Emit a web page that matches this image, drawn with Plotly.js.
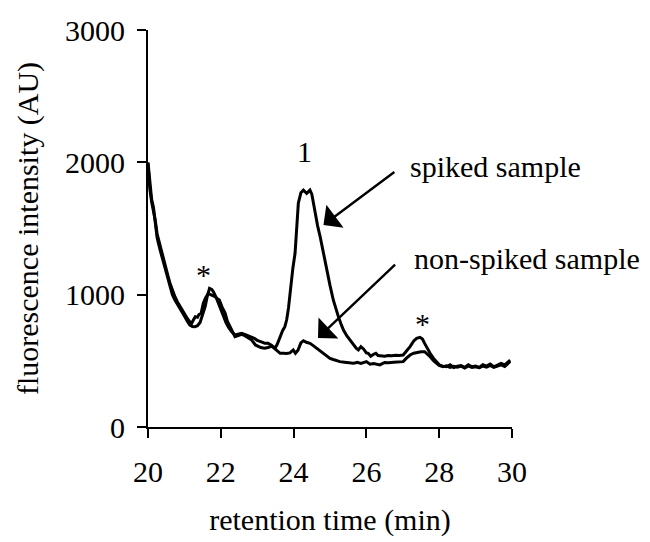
<!DOCTYPE html>
<html>
<head>
<meta charset="utf-8">
<script src="https://cdn.plot.ly/plotly-3.0.1.min.js"></script>
<style>html,body{margin:0;padding:0;background:#fff;}#chart{width:650px;height:542px;}</style>
</head>
<body>
<div id="chart"></div>
<script>
// retention time (min) and fluorescence intensity (AU)
const spikedTime = [20.00,20.05,20.10,20.15,20.20,20.25,20.33,20.40,20.47,20.55,20.60,20.67,20.74,20.81,20.88,20.95,21.02,21.08,21.15,21.22,21.29,21.36,21.43,21.50,21.57,21.63,21.69,21.75,21.80,21.87,21.93,22.00,22.07,22.14,22.21,22.30,22.39,22.48,22.57,22.66,22.75,22.85,22.92,23.00,23.08,23.15,23.21,23.30,23.38,23.45,23.49,23.55,23.62,23.70,23.76,23.81,23.86,23.92,23.98,24.04,24.09,24.13,24.20,24.27,24.36,24.45,24.50,24.54,24.60,24.66,24.73,24.82,24.91,25.00,25.09,25.16,25.23,25.30,25.37,25.46,25.55,25.65,25.72,25.78,25.85,25.92,26.00,26.05,26.12,26.20,26.26,26.32,26.40,26.50,26.60,26.70,26.80,26.90,27.01,27.10,27.20,27.30,27.38,27.47,27.54,27.60,27.68,27.75,27.84,27.93,28.00,28.10,28.20,28.30,28.40,28.50,28.60,28.70,28.80,28.90,29.00,29.10,29.20,29.30,29.40,29.50,29.60,29.70,29.80,29.90,29.95];
const spikedSignal = [2000,1840,1720,1660,1530,1430,1340,1270,1210,1120,1060,1000,960,930,900,860,830,800,770,760,758,765,790,850,910,990,1048,1040,1020,980,935,880,830,790,755,720,695,700,708,700,690,683,670,655,650,640,632,632,620,600,595,625,680,730,758,810,900,1061,1200,1313,1500,1691,1770,1790,1765,1790,1760,1691,1600,1520,1438,1310,1187,1070,960,890,834,780,733,690,657,620,595,582,607,590,560,557,535,550,557,540,537,535,540,538,542,540,544,570,607,650,670,678,665,632,590,557,520,494,470,460,455,470,450,460,465,450,470,455,460,450,470,460,475,455,470,480,470,495,505];

const nonSpikedTime = [20.00,20.05,20.10,20.15,20.20,20.25,20.33,20.40,20.47,20.55,20.60,20.67,20.74,20.81,20.88,20.95,21.02,21.08,21.15,21.20,21.25,21.30,21.36,21.40,21.46,21.52,21.58,21.66,21.72,21.79,21.84,21.90,21.96,22.03,22.12,22.18,22.25,22.32,22.39,22.48,22.57,22.66,22.75,22.85,22.95,23.03,23.10,23.20,23.30,23.40,23.50,23.58,23.63,23.72,23.80,23.90,23.99,24.05,24.12,24.20,24.27,24.35,24.45,24.54,24.63,24.72,24.82,24.90,25.00,25.09,25.18,25.27,25.40,25.50,25.64,25.75,25.85,26.00,26.10,26.20,26.37,26.50,26.60,26.75,26.90,27.01,27.10,27.20,27.30,27.40,27.50,27.60,27.68,27.75,27.85,27.93,28.00,28.10,28.20,28.30,28.40,28.50,28.60,28.70,28.80,28.90,29.00,29.10,29.20,29.30,29.40,29.50,29.60,29.70,29.80,29.90,29.95];
const nonSpikedSignal = [1990,1800,1700,1640,1560,1460,1370,1300,1230,1140,1090,1030,985,945,910,880,850,820,795,784,810,834,830,850,860,935,975,1010,1000,990,985,970,960,910,859,800,758,715,683,690,700,690,675,657,620,607,600,595,600,612,590,570,557,557,555,560,582,557,580,635,652,640,632,615,595,575,557,535,519,510,500,494,490,485,481,488,480,494,475,480,469,488,486,490,492,494,520,544,558,564,568,569,550,531,500,481,465,455,462,450,458,452,460,445,462,450,455,448,460,452,465,450,462,470,458,480,495];

const xTicks = [20,22,24,26,28,30];
const yTicks = [0,1000,2000,3000];
const xTitle = 'retention time (min)';
const yTitle = 'fluorescence intensity (AU)';

// labels: [text, x, y]
const peakLabels = [['*',21.52,1150],['1',24.29,2081],['*',27.55,780]];
const seriesLabels = [['spiked sample',27.14,1965],['non-spiked sample',27.25,1277]];
// arrows: [tipX, tipY, tailX, tailY]
const arrows = [[24.82,1527,26.81,1935],[24.67,673,26.83,1237]];

const FONT = "'Liberation Serif', 'DejaVu Serif', serif";

const traces = [
  {x: spikedTime, y: spikedSignal, type:'scatter', mode:'lines', name:'spiked sample',
   line:{color:'#000', width:3}},
  {x: nonSpikedTime, y: nonSpikedSignal, type:'scatter', mode:'lines', name:'non-spiked sample',
   line:{color:'#000', width:3}}
];

const annotations = [];
peakLabels.forEach(p => annotations.push({text:p[0], x:p[1], y:p[2], xref:'x', yref:'y', showarrow:false,
  font:{family:FONT, size:30, color:'#000'}}));
seriesLabels.forEach(p => annotations.push({text:p[0], x:p[1], y:p[2], xref:'x', yref:'y', showarrow:false,
  xanchor:'left', yanchor:'middle', font:{family:FONT, size:30, color:'#000'}}));
arrows.forEach(a => annotations.push({text:'', x:a[0], y:a[1], ax:a[2], ay:a[3], xref:'x', yref:'y',
  axref:'x', ayref:'y', showarrow:true, arrowhead:1, arrowsize:2, arrowwidth:2.4, arrowcolor:'#000', standoff:0}));

const layout = {
  width:650, height:542,
  margin:{l:148, r:138, t:30, b:115},
  paper_bgcolor:'#fff', plot_bgcolor:'#fff',
  showlegend:false,
  font:{family:FONT, size:30, color:'#000'},
  xaxis:{range:[20,30], tickvals:xTicks, ticktext:xTicks.map(String), showgrid:false, zeroline:false,
    showline:true, linecolor:'#000', linewidth:2, ticks:'outside', ticklen:9, tickwidth:2, tickcolor:'#000',
    ticklabelstandoff:8, tickfont:{family:FONT, size:30, color:'#000'},
    title:{text:xTitle, font:{family:FONT, size:30, color:'#000'}, standoff:22}, automargin:false, fixedrange:true},
  yaxis:{range:[0,3000], tickvals:yTicks, ticktext:yTicks.map(String), showgrid:false, zeroline:false,
    showline:true, linecolor:'#000', linewidth:2, ticks:'outside', ticklen:9, tickwidth:2, tickcolor:'#000',
    ticklabelstandoff:6, tickfont:{family:FONT, size:30, color:'#000'},
    title:{text:yTitle, font:{family:FONT, size:30, color:'#000'}, standoff:18}, automargin:false, fixedrange:true},
  annotations: annotations
};

Plotly.newPlot('chart', traces, layout, {displayModeBar:false, staticPlot:true});
</script>
</body>
</html>
